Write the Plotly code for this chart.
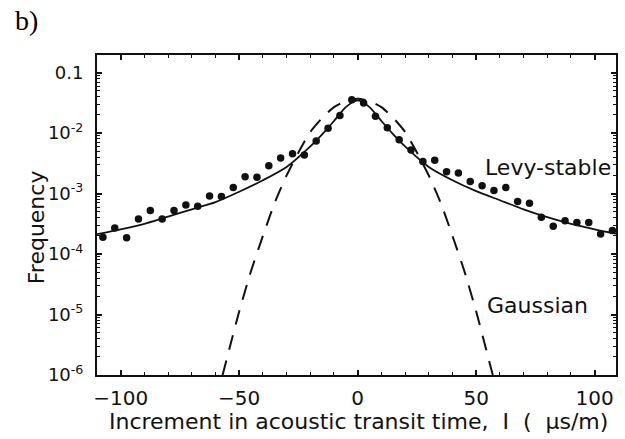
import plotly.graph_objects as go

# ---- data ----
# histogram points: bin centres and log10(frequency)
data_x = [-107.5, -102.5, -97.5, -92.5, -87.5, -82.5, -77.5, -72.5, -67.5, -62.5,
          -57.5, -52.5, -47.5, -42.5, -37.5, -32.5, -27.5, -22.5, -17.5, -12.5,
          -7.5, -2.5, 2.5, 7.5, 12.5, 17.5, 22.5, 27.5, 32.5, 37.5,
          42.5, 47.5, 52.5, 57.5, 62.5, 67.5, 72.5, 77.5, 82.5, 87.5,
          92.5, 97.5, 102.5, 107.5]
data_logf = [-3.72, -3.57, -3.73, -3.42, -3.28, -3.42, -3.28, -3.19, -3.21, -3.04,
             -3.05, -2.90, -2.72, -2.73, -2.54, -2.41, -2.34, -2.36, -2.13, -1.92,
             -1.71, -1.45, -1.50, -1.72, -1.91, -2.11, -2.28, -2.47, -2.45, -2.64,
             -2.66, -2.80, -2.87, -2.95, -2.90, -3.13, -3.16, -3.39, -3.54, -3.45,
             -3.48, -3.48, -3.67, -3.61]

# Levy-stable fit curve (read points)
levy_x = [-110, -100, -90, -80, -70, -60, -50, -40, -30, -20, -15, -10, -5, 0,
          5, 10, 15, 20, 30, 40, 50, 60, 70, 80, 90, 100, 110]
levy_logf = [-3.67, -3.59, -3.50, -3.38, -3.26, -3.14, -2.97, -2.78, -2.56, -2.22, -2.02, -1.80, -1.57, -1.46,
             -1.57, -1.80, -2.02, -2.22, -2.56, -2.78, -2.96, -3.11, -3.26, -3.39, -3.50, -3.59, -3.67]

# Gaussian fit curve (read points)
gauss_x = [-57, -50, -45, -40, -35, -30, -25, -20, -15, -10, -5, 0,
           5, 10, 15, 20, 25, 30, 35, 40, 45, 50, 57]
gauss_logf = [-6.0, -4.95, -4.28, -3.70, -3.15, -2.70, -2.32, -1.98, -1.75, -1.57, -1.47, -1.43,
              -1.47, -1.57, -1.75, -1.98, -2.32, -2.70, -3.15, -3.70, -4.28, -4.95, -6.0]

x_tickvals = [-100, -50, 0, 50, 100]
y_tickvals = [1e-1, 1e-2, 1e-3, 1e-4, 1e-5, 1e-6]
y_ticktext = ["0.1", "10<sup>-2</sup>", "10<sup>-3</sup>", "10<sup>-4</sup>",
              "10<sup>-5</sup>", "10<sup>-6</sup>"]

x_title = "Increment in acoustic transit time,  I  (  \u03bcs/m)"
y_title = "Frequency"
panel_label = "b)"
levy_label = "Levy-stable"
gauss_label = "Gaussian"

# ---- figure ----
W, H = 625, 439
ML, MR, MT, MB = 97, 7, 55, 64
FONT = "DejaVu Sans"
INK = "#111111"

def to_lin(v):
    return [10 ** a for a in v]

fig = go.Figure()
fig.add_trace(go.Scatter(x=gauss_x, y=to_lin(gauss_logf), mode="lines",
                         line=dict(color=INK, width=2, dash="15px,11px", shape="spline", smoothing=0.6),
                         showlegend=False, hoverinfo="skip"))
fig.add_trace(go.Scatter(x=levy_x, y=to_lin(levy_logf), mode="lines",
                         line=dict(color=INK, width=1.8, shape="spline", smoothing=0.7),
                         showlegend=False, hoverinfo="skip"))
fig.add_trace(go.Scatter(x=data_x, y=to_lin(data_logf), mode="markers",
                         marker=dict(color=INK, size=7.5),
                         showlegend=False, hoverinfo="skip"))

pw = W - ML - MR
ph = H - MT - MB

def px(xp):
    return (xp - ML) / pw

def py(yp):
    return 1 - (yp - MT) / ph

fig.update_layout(
    width=W, height=H,
    margin=dict(l=ML, r=MR, t=MT, b=MB),
    paper_bgcolor="white", plot_bgcolor="white",
    font=dict(family=FONT, color=INK),
    xaxis=dict(range=[-110, 109], tickvals=x_tickvals, ticks="inside", ticklen=5, tickwidth=1.5,
               tickcolor=INK, showline=True, linecolor=INK, linewidth=2, mirror="ticks",
               showgrid=False, zeroline=False, tickfont=dict(size=20, family=FONT),
               ticklabelstandoff=4,
               minor=dict(dtick=10, tick0=0, ticks="inside", ticklen=3, tickcolor=INK, tickwidth=1, showgrid=False)),
    yaxis=dict(type="log", range=[-6, -0.708], tickvals=y_tickvals, ticktext=y_ticktext,
               ticks="inside", ticklen=5, tickwidth=1.5, tickcolor=INK, showline=True,
               linecolor=INK, linewidth=2, mirror="ticks", showgrid=False, zeroline=False,
               tickfont=dict(size=18, family=FONT), ticklabelstandoff=8,
               minor=dict(tickvals=[k * 10.0 ** n for n in range(-6, 0) for k in range(2, 10)],
                          ticks="inside", ticklen=3, tickcolor=INK, tickwidth=1, showgrid=False)),
    annotations=[
        dict(text=x_title, xref="paper", yref="paper", x=px(360), y=py(421),
             xanchor="center", yanchor="middle", showarrow=False, font=dict(size=22, family=FONT, color=INK)),
        dict(text=y_title, xref="paper", yref="paper", x=px(36), y=py(227), textangle=-90,
             xanchor="center", yanchor="middle", showarrow=False, font=dict(size=22, family=FONT, color=INK)),
        dict(text=panel_label, xref="paper", yref="paper", x=px(13), y=py(20),
             xanchor="left", yanchor="middle", showarrow=False,
             font=dict(size=28, family="Liberation Serif", color="black")),
        dict(text=levy_label, xref="paper", yref="paper", x=px(550), y=py(167),
             xanchor="center", yanchor="middle", showarrow=False, font=dict(size=22, family=FONT, color=INK)),
        dict(text=gauss_label, xref="paper", yref="paper", x=px(539), y=py(305),
             xanchor="center", yanchor="middle", showarrow=False, font=dict(size=22, family=FONT, color=INK)),
    ],
)

fig.write_html("out.html", config={"displayModeBar": False},
               post_script="document.body.style.margin='0';document.body.style.padding='0';")
